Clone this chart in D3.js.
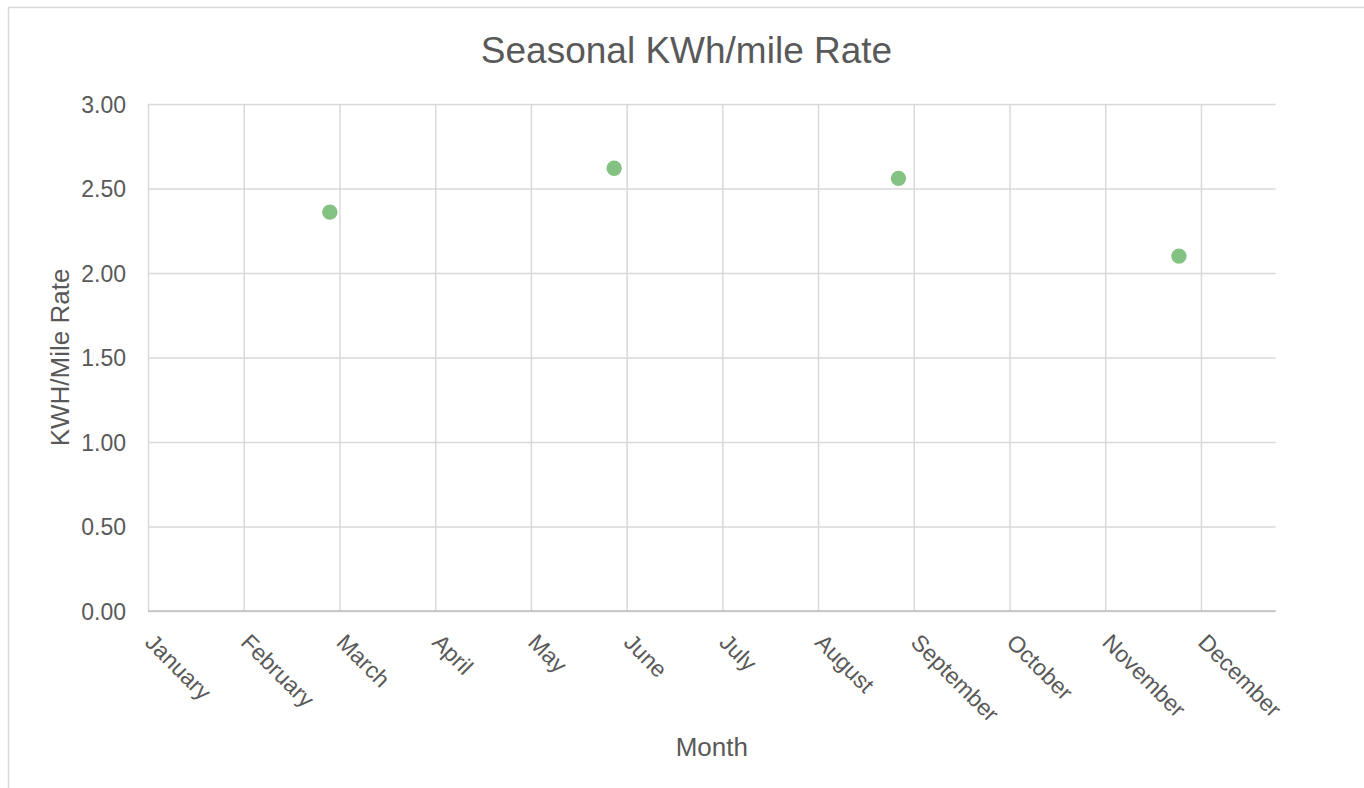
<!DOCTYPE html>
<html>
<head>
<meta charset="utf-8">
<script src="https://cdn.jsdelivr.net/npm/d3@7"></script>
<style>
  html, body { margin: 0; padding: 0; background: #fff; }
  svg { display: block; font-family: "Liberation Sans", Arial, sans-serif; }
</style>
</head>
<body>
<svg id="chart" width="1364" height="788"></svg>
<script>
// ---- data ----
const months = ["January","February","March","April","May","June","July","August","September","October","November","December"];
const monthPos = [1.90, 4.87, 7.84, 10.77];      // x position in month units (0 = January)
const kwhPerMile = [2.36, 2.62, 2.56, 2.10];
const yTicks = [0, 0.5, 1.0, 1.5, 2.0, 2.5, 3.0];
const xMax = 11.78;

const title = "Seasonal KWh/mile Rate";
const xTitle = "Month";
const yTitle = "KWH/Mile Rate";

// ---- layout ----
const plot = { left: 148, right: 1275.6, top: 104, bottom: 611 };
const textColor = "#595959";
const gridColor = "#d9d9d9";

const svg = d3.select("#chart");

// chart border (only left/top visible in the frame)
svg.append("rect")
  .attr("x", 8.5).attr("y", 7.5)
  .attr("width", 1400).attr("height", 900)
  .attr("fill", "none").attr("stroke", gridColor).attr("stroke-width", 1.5);

const x = d3.scaleLinear().domain([0, xMax]).range([plot.left, plot.right]);
const y = d3.scaleLinear().domain([0, 3]).range([plot.bottom, plot.top]);

// horizontal gridlines + y labels
const yAxis = d3.axisLeft(y).tickValues(yTicks).tickFormat(d3.format(".2f"))
  .tickSize(-(plot.right - plot.left)).tickPadding(22);
const gy = svg.append("g").attr("transform", `translate(${plot.left},0)`).call(yAxis);
gy.select(".domain").remove();
gy.selectAll(".tick line").attr("stroke", gridColor).attr("stroke-width", 1.5);
gy.selectAll(".tick text").attr("fill", textColor).attr("font-size", 23)
  .attr("dy", "0.35em");

// vertical gridlines + x labels
const xAxis = d3.axisBottom(x).tickValues(d3.range(months.length))
  .tickFormat(i => months[i]).tickSize(-(plot.bottom - plot.top));
const gx = svg.append("g").attr("transform", `translate(0,${plot.bottom})`).call(xAxis);
gx.select(".domain").remove();
gx.selectAll(".tick line").attr("stroke", gridColor).attr("stroke-width", 1.5);
gx.selectAll(".tick text")
  .attr("fill", textColor).attr("font-size", 23)
  .attr("text-anchor", "start")
  .attr("y", 0).attr("dy", "0.72em")
  .attr("transform", "translate(7,21) rotate(45)");

// bottom axis line
svg.append("line")
  .attr("x1", plot.left).attr("x2", plot.right)
  .attr("y1", y(0)).attr("y2", y(0))
  .attr("stroke", "#bfbfbf").attr("stroke-width", 1.5);

// points
svg.append("g").selectAll("circle")
  .data(kwhPerMile.map((v, i) => ({ x: monthPos[i], y: v })))
  .join("circle")
  .attr("cx", d => x(d.x)).attr("cy", d => y(d.y))
  .attr("r", 7.7).attr("fill", "#84c284");

// titles
svg.append("text").attr("x", 686.5).attr("y", 63)
  .attr("text-anchor", "middle").attr("font-size", 37).attr("fill", textColor)
  .text(title);

svg.append("text").attr("x", (plot.left + plot.right) / 2).attr("y", 756)
  .attr("text-anchor", "middle").attr("font-size", 26).attr("fill", textColor)
  .text(xTitle);

svg.append("text")
  .attr("transform", `translate(69,${(plot.top + plot.bottom) / 2}) rotate(-90)`)
  .attr("text-anchor", "middle").attr("font-size", 26).attr("fill", textColor)
  .text(yTitle);
</script>
</body>
</html>
